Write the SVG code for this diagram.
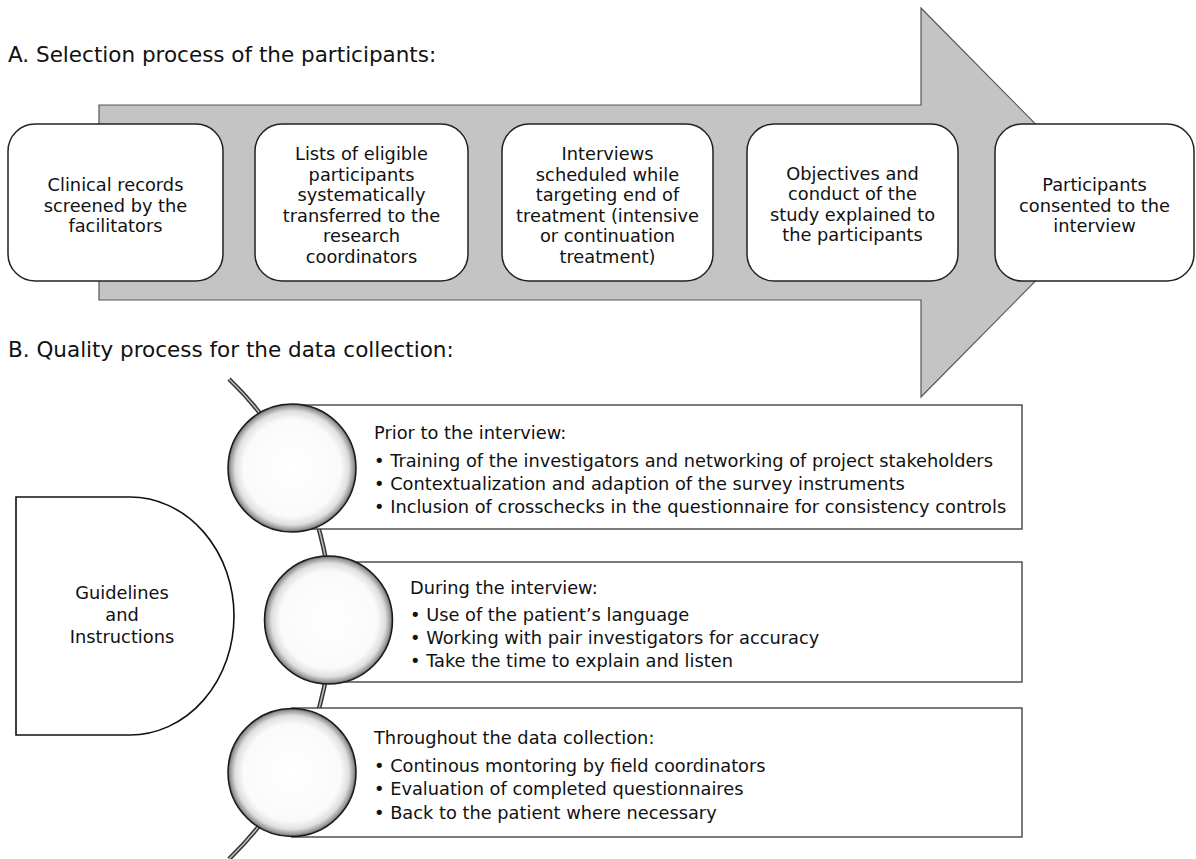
<svg xmlns="http://www.w3.org/2000/svg" width="1196" height="859" viewBox="0 0 1196 859">
<defs>
<radialGradient id="ball" cx="50%" cy="50%" r="50%">
<stop offset="0" stop-color="#ffffff"/>
<stop offset="0.76" stop-color="#fafafa"/>
<stop offset="0.89" stop-color="#dedede"/>
<stop offset="0.97" stop-color="#959595"/>
<stop offset="1" stop-color="#505050"/>
</radialGradient>
</defs>
<style>
text{font-family:"DejaVu Sans","Liberation Sans",sans-serif;fill:#111;}
.h{font-size:21.5px;}
.t{font-size:17.8px;}
.c{text-anchor:middle;}
.box{fill:#fff;stroke:#222;stroke-width:1.5;}
.rb{fill:#fff;stroke:#444;stroke-width:1.4;}
.ball{fill:url(#ball);stroke:#1a1a1a;stroke-width:1.5;}
</style>
<rect width="1196" height="859" fill="#fff"/>

<text class="h" x="8" y="62">A. Selection process of the participants:</text>
<text class="h" x="8" y="357">B. Quality process for the data collection:</text>

<g id="arrow">
<polygon points="99,105 921,105 921,8 1113,202.5 921,397 921,300 99,300" fill="#c4c4c4" stroke="#555" stroke-width="1.2"/>
</g>

<g id="a1">
<rect class="box" x="8" y="124" width="215" height="157" rx="27"/>
<text class="t c" x="115.5" y="191.3">Clinical records</text>
<text class="t c" x="115.5" y="211.8">screened by the</text>
<text class="t c" x="115.5" y="232.3">facilitators</text>
</g>
<g id="a2">
<rect class="box" x="255" y="124" width="213" height="157" rx="27"/>
<text class="t c" x="361.5" y="160">Lists of eligible</text>
<text class="t c" x="361.5" y="180.5">participants</text>
<text class="t c" x="361.5" y="201">systematically</text>
<text class="t c" x="361.5" y="221.5">transferred to the</text>
<text class="t c" x="361.5" y="242">research</text>
<text class="t c" x="361.5" y="262.5">coordinators</text>
</g>
<g id="a3">
<rect class="box" x="502" y="124" width="211" height="157" rx="27"/>
<text class="t c" x="607.5" y="160">Interviews</text>
<text class="t c" x="607.5" y="180.5">scheduled while</text>
<text class="t c" x="607.5" y="201">targeting end of</text>
<text class="t c" x="607.5" y="221.5">treatment (intensive</text>
<text class="t c" x="607.5" y="242">or continuation</text>
<text class="t c" x="607.5" y="262.5">treatment)</text>
</g>
<g id="a4">
<rect class="box" x="747" y="124" width="211" height="157" rx="27"/>
<text class="t c" x="852.5" y="179.5">Objectives and</text>
<text class="t c" x="852.5" y="200">conduct of the</text>
<text class="t c" x="852.5" y="220.5">study explained to</text>
<text class="t c" x="852.5" y="241">the participants</text>
</g>
<g id="a5">
<rect class="box" x="995" y="124" width="199" height="157" rx="27"/>
<text class="t c" x="1094.5" y="191.3">Participants</text>
<text class="t c" x="1094.5" y="211.8">consented to the</text>
<text class="t c" x="1094.5" y="232.3">interview</text>
</g>

<g id="guidelines">
<path d="M16,497 H130 A104,119 0 0 1 130,735 H16 Z" fill="#fff" stroke="#111" stroke-width="1.6"/>
<text class="t c" x="122" y="599.3">Guidelines</text>
<text class="t c" x="122" y="621.3">and</text>
<text class="t c" x="122" y="643.3">Instructions</text>
</g>

<g id="connectors">
<path d="M229,379 A333,333 0 0 1 229,859" fill="none" stroke="#333" stroke-width="4.5"/>
<path d="M229,379 A333,333 0 0 1 229,859" fill="none" stroke="#b8b8b8" stroke-width="1.6"/>
</g>

<g id="b1">
<rect class="rb" x="292" y="405" width="730" height="124"/>
<circle class="ball" cx="292" cy="468" r="64"/>
<text class="t" x="374" y="438.5">Prior to the interview:</text>
<text class="t" x="374" y="466.5">• Training of the investigators and networking of project stakeholders</text>
<text class="t" x="374" y="489.5">• Contextualization and adaption of the survey instruments</text>
<text class="t" x="374" y="512.5">• Inclusion of crosschecks in the questionnaire for consistency controls</text>
</g>
<g id="b2">
<rect class="rb" x="328" y="562" width="694" height="120"/>
<circle class="ball" cx="328.5" cy="620" r="64"/>
<text class="t" x="410" y="593.5">During the interview:</text>
<text class="t" x="410" y="621">• Use of the patient’s language</text>
<text class="t" x="410" y="644">• Working with pair investigators for accuracy</text>
<text class="t" x="410" y="667">• Take the time to explain and listen</text>
</g>
<g id="b3">
<rect class="rb" x="292" y="708" width="730" height="129"/>
<circle class="ball" cx="292" cy="772.5" r="64"/>
<text class="t" x="374" y="743.5">Throughout the data collection:</text>
<text class="t" x="374" y="771.5">• Continous montoring by field coordinators</text>
<text class="t" x="374" y="795">• Evaluation of completed questionnaires</text>
<text class="t" x="374" y="818.5">• Back to the patient where necessary</text>
</g>
</svg>
